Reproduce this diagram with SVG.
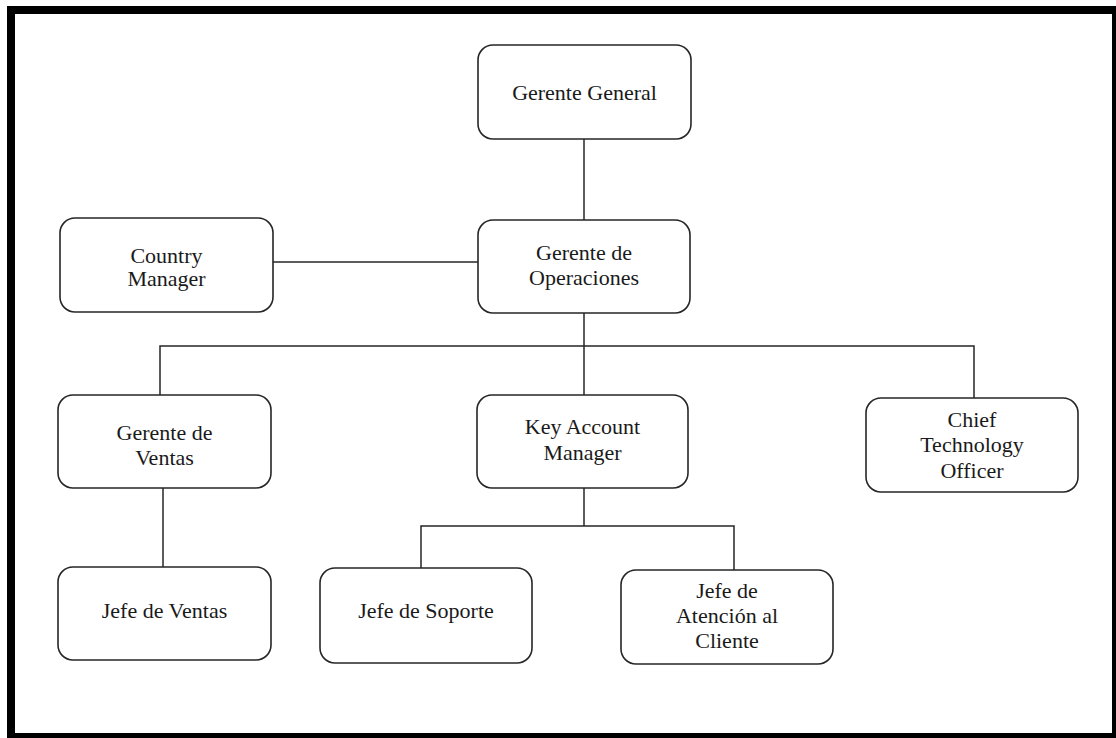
<svg xmlns="http://www.w3.org/2000/svg" width="1116" height="738" viewBox="0 0 1116 738">
  <style>
    .box { fill: #ffffff; stroke: #262626; stroke-width: 1.6; }
    .lbl { font-family: "Liberation Serif", "Times New Roman", serif; font-size: 22px; fill: #1a1a1a; text-anchor: middle; }
    .link { fill: none; stroke: #262626; stroke-width: 1.5; }
  </style>
  <rect x="0" y="0" width="1116" height="738" fill="#ffffff"/>
  <!-- outer frame -->
  <path d="M7 6 H1116 V738 H7 Z M15 14 V733 H1112 V14 Z" fill="#000000" fill-rule="evenodd"/>

  <g id="connectors">
    <line class="link" x1="584" y1="139" x2="584" y2="220"/>
    <line class="link" x1="273" y1="262" x2="478" y2="262"/>
    <line class="link" x1="584" y1="313" x2="584" y2="395"/>
    <polyline class="link" points="160,395 160,346 974,346 974,398"/>
    <line class="link" x1="163" y1="488" x2="163" y2="567"/>
    <line class="link" x1="584" y1="488" x2="584" y2="526"/>
    <polyline class="link" points="421,568 421,526 734,526 734,570"/>
  </g>

  <g id="gerente-general">
    <rect class="box" x="478" y="45" width="213" height="94" rx="15"/>
    <text class="lbl" x="584.5" y="100">Gerente General</text>
  </g>
  <g id="country-manager">
    <rect class="box" x="60" y="218" width="213" height="94" rx="15"/>
    <text class="lbl" x="166.5" y="263">Country</text>
    <text class="lbl" x="166.5" y="286">Manager</text>
  </g>
  <g id="gerente-operaciones">
    <rect class="box" x="478" y="220" width="212" height="93" rx="15"/>
    <text class="lbl" x="584" y="260">Gerente de</text>
    <text class="lbl" x="584" y="285">Operaciones</text>
  </g>
  <g id="gerente-ventas">
    <rect class="box" x="58" y="395" width="213" height="93" rx="15"/>
    <text class="lbl" x="164.5" y="440">Gerente de</text>
    <text class="lbl" x="164.5" y="465">Ventas</text>
  </g>
  <g id="key-account-manager">
    <rect class="box" x="477" y="395" width="211" height="93" rx="15"/>
    <text class="lbl" x="582.5" y="434">Key Account</text>
    <text class="lbl" x="582.5" y="460">Manager</text>
  </g>
  <g id="cto">
    <rect class="box" x="866" y="398" width="212" height="94" rx="15"/>
    <text class="lbl" x="972" y="427">Chief</text>
    <text class="lbl" x="972" y="452">Technology</text>
    <text class="lbl" x="972" y="478">Officer</text>
  </g>
  <g id="jefe-ventas">
    <rect class="box" x="58" y="567" width="213" height="93" rx="15"/>
    <text class="lbl" x="164.5" y="618">Jefe de Ventas</text>
  </g>
  <g id="jefe-soporte">
    <rect class="box" x="320" y="568" width="212" height="95" rx="15"/>
    <text class="lbl" x="426" y="618">Jefe de Soporte</text>
  </g>
  <g id="jefe-atencion">
    <rect class="box" x="621" y="570" width="212" height="94" rx="15"/>
    <text class="lbl" x="727" y="598">Jefe de</text>
    <text class="lbl" x="727" y="623">Atención al</text>
    <text class="lbl" x="727" y="648">Cliente</text>
  </g>
</svg>
